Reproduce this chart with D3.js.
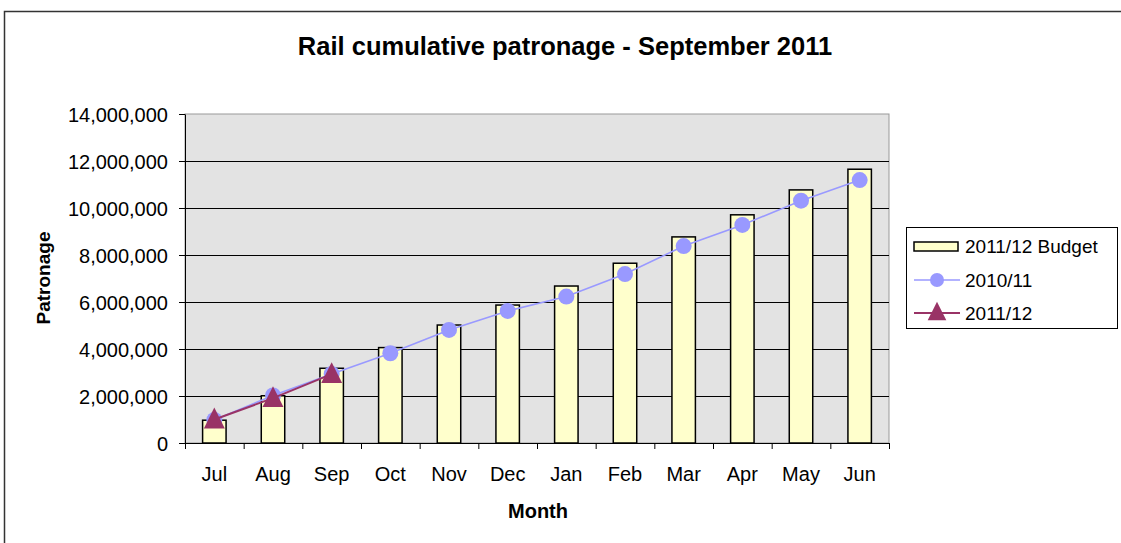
<!DOCTYPE html>
<html>
<head>
<meta charset="utf-8">
<script src="https://cdn.jsdelivr.net/npm/d3@7"></script>
<style>
  body { margin: 0; background: #fff; }
  svg { display: block; font-family: "Liberation Sans", Arial, sans-serif; }
  .axis path, .axis line { stroke: #000; }
  .axis text { font-size: 20px; fill: #000; }
</style>
</head>
<body>
<div id="chart"></div>
<script>
// chart values
const months = ["Jul","Aug","Sep","Oct","Nov","Dec","Jan","Feb","Mar","Apr","May","Jun"];
const budget = [970000, 2010000, 3180000, 4060000, 5020000, 5870000, 6680000, 7650000, 8770000, 9710000, 10770000, 11650000];
const prevYear = [980000, 2020000, 2940000, 3820000, 4810000, 5620000, 6230000, 7190000, 8380000, 9280000, 10310000, 11190000];
const curYear = [1000000, 1910000, 2930000];
const yTicks = [0, 2000000, 4000000, 6000000, 8000000, 10000000, 12000000, 14000000];
const seriesNames = ["2011/12 Budget", "2010/11", "2011/12"];

const width = 1121, height = 543;
const plot = {left: 185, top: 114, right: 889, bottom: 443};

const svg = d3.select("#chart").append("svg")
	.attr("width", width)
	.attr("height", height);

// outer chart border
svg.append("rect")
	.attr("x", 4.5).attr("y", 11.5)
	.attr("width", 1140).attr("height", 560)
	.attr("fill", "#fff")
	.attr("stroke", "#333")
	.attr("stroke-width", 1.5);

var x = d3.scaleBand()
	.domain(months)
	.range([plot.left, plot.right])
	.paddingInner(0.6)
	.paddingOuter(0.3);
var xEdge = d3.scaleLinear().domain([0, months.length]).range([plot.left, plot.right]);
var y = d3.scaleLinear().domain([0, 14000000]).range([plot.bottom, plot.top]);
const cx = m => x(m) + x.bandwidth() / 2;

// plot area
svg.append("rect")
	.attr("x", plot.left).attr("y", plot.top)
	.attr("width", plot.right - plot.left).attr("height", plot.bottom - plot.top)
	.attr("fill", "#e3e3e3")
	.attr("stroke", "#999")
	.attr("stroke-width", 1);

// gridlines
svg.append("g")
	.attr("transform", `translate(${plot.left},0)`)
	.call(d3.axisLeft(y).tickValues(yTicks.slice(1, -1)).tickSize(-(plot.right - plot.left)).tickFormat(""))
	.call(g => g.select(".domain").remove())
	.selectAll("line").attr("stroke", "#000").attr("stroke-width", 1);

// bars
svg.selectAll(".bar").data(budget)
	.enter().append("rect")
	.attr("class", "bar")
	.attr("x", (d, i) => x(months[i]))
	.attr("y", d => y(d))
	.attr("width", x.bandwidth())
	.attr("height", d => plot.bottom - y(d))
	.attr("fill", "#ffffcc")
	.attr("stroke", "#000")
	.attr("stroke-width", 1.5);

// y axis
svg.append("g")
	.attr("class", "axis")
	.attr("transform", `translate(${plot.left},0)`)
	.call(d3.axisLeft(y).tickValues(yTicks).tickFormat(d3.format(",")).tickSize(6).tickSizeOuter(0).tickPadding(11))
	.selectAll("text").attr("dy", "0.35em");

// x axis (ticks at category edges)
svg.append("g")
	.attr("class", "axis")
	.attr("transform", `translate(0,${plot.bottom})`)
	.call(d3.axisBottom(xEdge).tickValues(d3.range(months.length + 1)).tickFormat("").tickSize(6).tickSizeOuter(0));

svg.append("g").selectAll("text").data(months)
	.enter().append("text")
	.attr("x", d => cx(d))
	.attr("y", 481)
	.attr("text-anchor", "middle")
	.attr("font-size", 20)
	.text(d => d);

// 2010/11 line
const line = d3.line().x(d => d[0]).y(d => y(d[1]));
svg.append("path")
	.datum(prevYear.map((v, i) => [cx(months[i]), v]))
	.attr("d", line)
	.attr("fill", "none")
	.attr("stroke", "#9999ff")
	.attr("stroke-width", 1.6);
svg.selectAll(".dot").data(prevYear)
	.enter().append("circle")
	.attr("class", "dot")
	.attr("cx", (d, i) => cx(months[i]))
	.attr("cy", d => y(d))
	.attr("r", 8)
	.attr("fill", "#9999ff");

// 2011/12 line
const tri = d3.symbol().type(d3.symbolTriangle).size(190);
svg.append("path")
	.datum(curYear.map((v, i) => [cx(months[i]), v]))
	.attr("d", line)
	.attr("fill", "none")
	.attr("stroke", "#993366")
	.attr("stroke-width", 2);
svg.selectAll(".tri").data(curYear)
	.enter().append("path")
	.attr("class", "tri")
	.attr("transform", (d, i) => `translate(${cx(months[i])},${y(d) + 2}) scale(1,1.15)`)
	.attr("d", tri)
	.attr("fill", "#993366");

// titles
svg.append("text")
	.attr("x", 565).attr("y", 55)
	.attr("text-anchor", "middle")
	.attr("font-size", 25.5).attr("font-weight", "bold")
	.text("Rail cumulative patronage - September 2011");
svg.append("text")
	.attr("x", 538).attr("y", 518)
	.attr("text-anchor", "middle")
	.attr("font-size", 20).attr("font-weight", "bold")
	.text("Month");
svg.append("text")
	.attr("transform", "translate(50,278) rotate(-90)")
	.attr("text-anchor", "middle")
	.attr("font-size", 19).attr("font-weight", "bold")
	.text("Patronage");

// legend
const legend = svg.append("g");
legend.append("rect")
	.attr("x", 906.5).attr("y", 227.5)
	.attr("width", 211).attr("height", 101)
	.attr("fill", "#fff").attr("stroke", "#000").attr("stroke-width", 1);
const rowY = [246, 280, 313];
legend.append("rect")
	.attr("x", 914).attr("y", 242).attr("width", 44).attr("height", 9)
	.attr("fill", "#ffffcc").attr("stroke", "#000").attr("stroke-width", 1.5);
legend.append("line")
	.attr("x1", 914).attr("x2", 960).attr("y1", rowY[1]).attr("y2", rowY[1])
	.attr("stroke", "#9999ff").attr("stroke-width", 1.6);
legend.append("circle")
	.attr("cx", 937).attr("cy", rowY[1]).attr("r", 7).attr("fill", "#9999ff");
legend.append("line")
	.attr("x1", 914).attr("x2", 960).attr("y1", rowY[2]).attr("y2", rowY[2])
	.attr("stroke", "#993366").attr("stroke-width", 2);
legend.append("path")
	.attr("transform", `translate(937,${rowY[2] + 1}) scale(1,1.15)`)
	.attr("d", d3.symbol().type(d3.symbolTriangle).size(150))
	.attr("fill", "#993366");
legend.selectAll(".ltext").data(seriesNames)
	.enter().append("text")
	.attr("class", "ltext")
	.attr("x", 965)
	.attr("y", (d, i) => rowY[i] + 7)
	.attr("font-size", 19)
	.text(d => d);
</script>
</body>
</html>
